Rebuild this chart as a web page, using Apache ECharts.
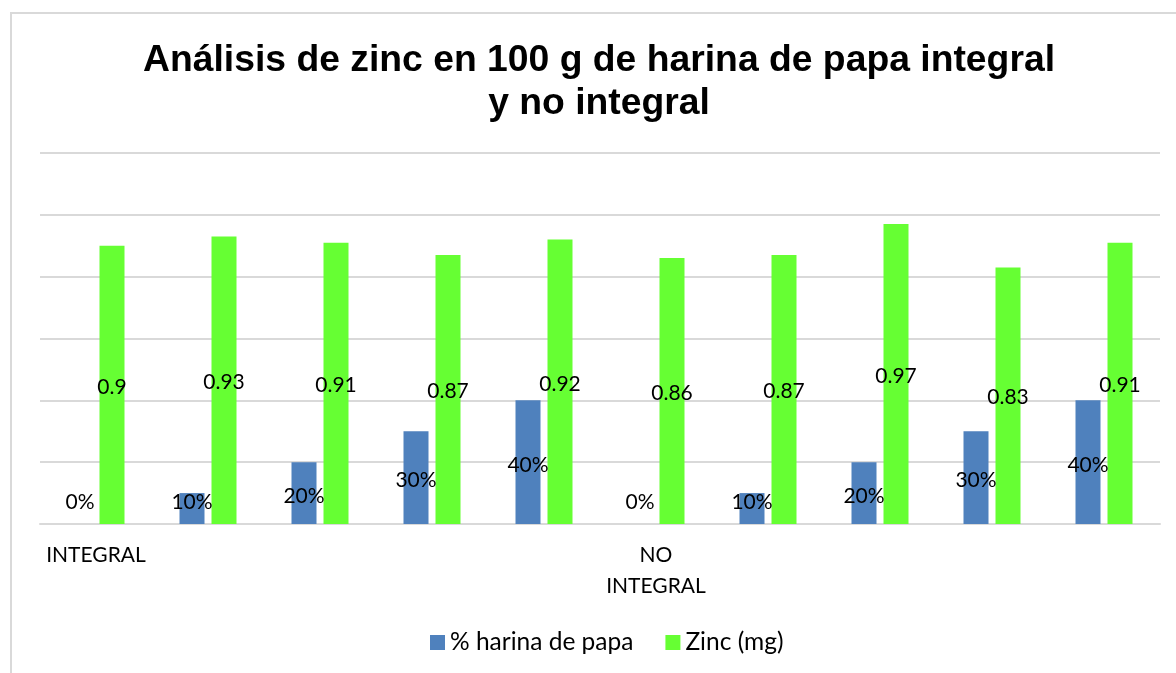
<!DOCTYPE html>
<html>
<head>
<meta charset="utf-8">
<script src="https://cdn.jsdelivr.net/npm/echarts@6/dist/echarts.min.js"></script>
<style>
  html, body { margin: 0; padding: 0; background: #fff; }
  #chart { width: 1176px; height: 673px; }
</style>
</head>
<body>
<div id="chart"></div>
<script>
const categories = ["INTEGRAL", "", "", "", "", "NO\nINTEGRAL", "", "", "", ""];
const harina = [0, 0.1, 0.2, 0.3, 0.4, 0, 0.1, 0.2, 0.3, 0.4];
const zinc = [0.9, 0.93, 0.91, 0.87, 0.92, 0.86, 0.87, 0.97, 0.83, 0.91];

const labelFont = "Lato, 'Open Sans', sans-serif";

const chart = echarts.init(document.getElementById("chart"));

// small bars: Excel keeps the label just above the axis
const harinaData = harina.map((v) =>
  v < 0.2 ? { value: v, label: { position: "insideBottom", distance: 14 } } : v
);

const option = {
  backgroundColor: "#fff",
  animation: false,
  graphic: [
    {
      type: "rect",
      shape: { x: 11, y: 13, width: 1200, height: 700 },
      style: { fill: "none", stroke: "#d9d9d9", lineWidth: 2 },
      silent: true,
    },
  ],
  title: {
    text: "Análisis de zinc en 100 g de harina de papa integral\ny no integral",
    left: 594,
    top: 34,
    textAlign: "center",
    textStyle: {
      fontFamily: "'Liberation Sans', Arial, sans-serif",
      fontSize: 37.3,
      fontWeight: "bold",
      color: "#000",
      lineHeight: 43,
    },
  },
  legend: {
    data: ["% harina de papa", "Zinc (mg)"],
    left: 425,
    top: 625,
    itemWidth: 15,
    itemHeight: 15,
    itemGap: 32,
    icon: "rect",
    textStyle: {
      fontFamily: labelFont,
      fontSize: 24.5,
      color: "#000",
    },
  },
  grid: {
    left: 40,
    right: 16,
    top: 153,
    bottom: 149,
  },
  xAxis: {
    type: "category",
    data: categories,
    axisTick: { show: false },
    axisLine: { lineStyle: { color: "#d9d9d9", width: 2 } },
    axisLabel: {
      interval: 0,
      margin: 16,
      color: "#000",
      fontFamily: labelFont,
      fontSize: 21,
      lineHeight: 31,
    },
  },
  yAxis: {
    type: "value",
    min: 0,
    max: 1.2,
    interval: 0.2,
    axisLabel: { show: false },
    axisLine: { show: false },
    axisTick: { show: false },
    splitLine: { lineStyle: { color: "#d9d9d9", width: 2 } },
  },
  series: [
    {
      name: "% harina de papa",
      type: "bar",
      data: harinaData,
      barWidth: 25,
      barGap: "28%",
      itemStyle: { color: "#4f81bd" },
      label: {
        show: true,
        position: "inside",
        offset: [0, 3],
        color: "#000",
        fontFamily: labelFont,
        fontSize: 21,
        formatter: (p) => Math.round(p.value * 100) + "%",
      },
    },
    {
      name: "Zinc (mg)",
      type: "bar",
      data: zinc,
      barWidth: 25,
      itemStyle: { color: "#66ff33" },
      label: {
        show: true,
        position: "inside",
        offset: [0, 2],
        color: "#000",
        fontFamily: labelFont,
        fontSize: 21,
      },
    },
  ],
};

chart.setOption(option);
</script>
</body>
</html>
